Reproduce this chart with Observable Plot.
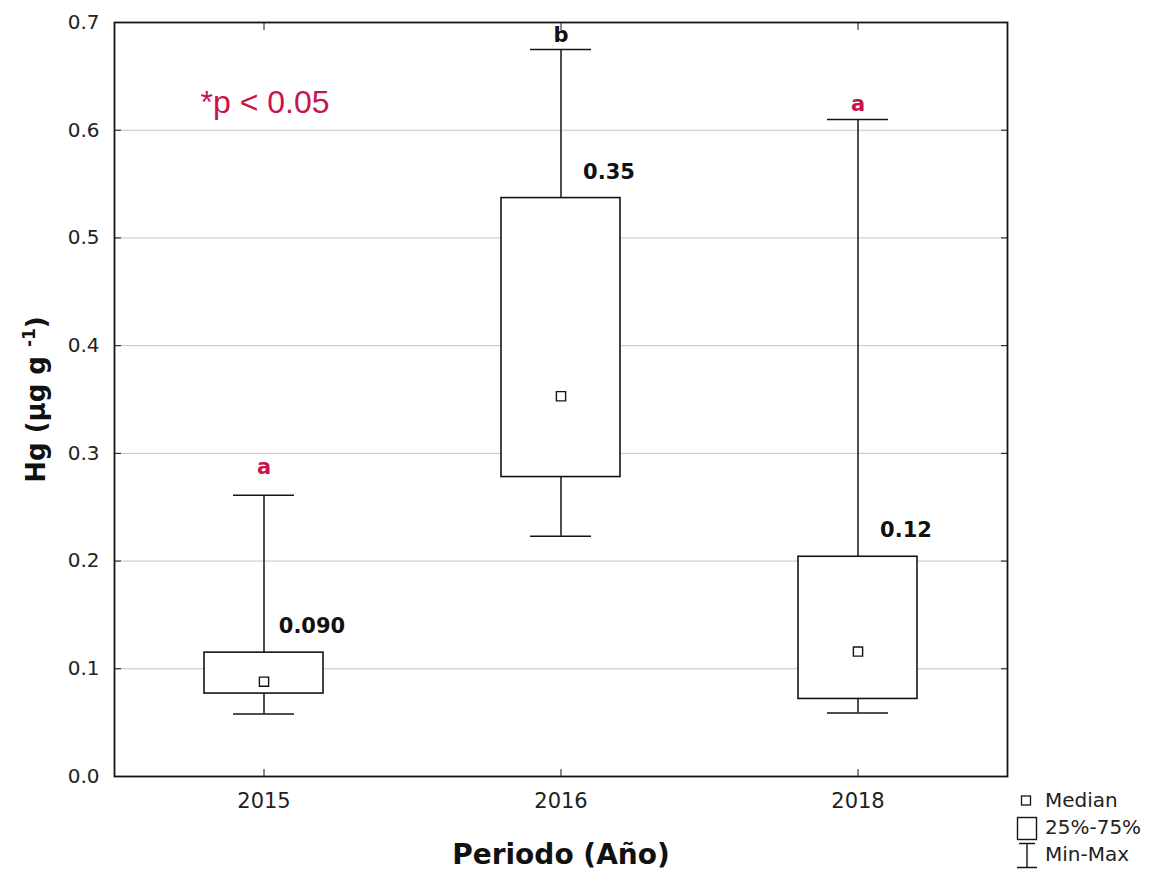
<!DOCTYPE html>
<html><head><meta charset="utf-8">
<script src="https://cdn.jsdelivr.net/npm/d3@7"></script>
<script src="https://cdn.jsdelivr.net/npm/@observablehq/plot@0.6"></script>
<style>
body{margin:0;background:#fff;}
#wrap{position:relative;width:1158px;height:876px;overflow:hidden;}
#legend{position:absolute;left:1000px;top:780px;}
</style></head><body><div id="wrap"></div>
<script>
// ---- data ----
const years = ["2015", "2016", "2018"];
const minVals = [0.058, 0.223, 0.059];
const q1Vals = [0.077, 0.278, 0.072];
const medianVals = [0.088, 0.353, 0.116];
const q3Vals = [0.115, 0.537, 0.204];
const maxVals = [0.261, 0.675, 0.610];
const medianLabels = ["0.090", "0.35", "0.12"];
const groupLetters = ["a", "b", "a"];
const letterY = [0.287, 0.688, 0.624];
const letterColors = ["#c8144b", "#111111", "#c8144b"];
const yTicks = [0, 0.1, 0.2, 0.3, 0.4, 0.5, 0.6, 0.7];
const pText = "*p < 0.05";
const xTitle = "Periodo (Año)";
const yTitle = "Hg (µg g -1)";
const legendItems = ["Median", "25%-75%", "Min-Max"];

const rows = years.map((year, i) => ({
  year, min: minVals[i], q1: q1Vals[i], median: medianVals[i], q3: q3Vals[i], max: maxVals[i],
  label: medianLabels[i], letter: groupLetters[i], letterY: letterY[i], letterColor: letterColors[i]
}));

const ink = "#141414";
const chart = Plot.plot({
  width: 1158, height: 876,
  marginLeft: 114, marginRight: 151, marginTop: 22, marginBottom: 100,
  x: {domain: years, padding: 0, label: null},
  y: {domain: [0, 0.7], label: null},
  color: {type: "identity"},
  style: {fontFamily: "DejaVu Sans, sans-serif", background: "#fff", color: "#222"},
  marks: [
    Plot.gridY(yTicks, {stroke: "#c4c4c4", strokeOpacity: 1, strokeWidth: 1}),
    Plot.axisY(yTicks, {anchor: "left", tickSize: -7, tickPadding: 22, tickFormat: d => d.toFixed(1), fontSize: 20, label: null, stroke: ink}),
    Plot.axisY(yTicks, {anchor: "right", tickSize: -7, tickFormat: () => "", label: null, stroke: ink}),
    Plot.axisX({anchor: "bottom", tickSize: -7, tickPadding: 24, fontSize: 21, label: null, stroke: ink}),
    Plot.axisX({anchor: "top", tickSize: -7, tickFormat: () => "", label: null, stroke: ink}),
    Plot.ruleX(rows, {x: "year", y1: "min", y2: "max", stroke: ink, strokeWidth: 1.5}),
    Plot.barY(rows, {x: "year", y1: "q1", y2: "q3", fill: "white", stroke: ink, strokeWidth: 1.6, insetLeft: 89, insetRight: 89}),
    Plot.tickY(rows, {x: "year", y: "max", stroke: ink, strokeWidth: 1.5, insetLeft: 118, insetRight: 118}),
    Plot.tickY(rows, {x: "year", y: "min", stroke: ink, strokeWidth: 1.5, insetLeft: 118, insetRight: 118}),
    Plot.dot(rows, {x: "year", y: "median", symbol: "square", r: 5.2, fill: "white", stroke: ink, strokeWidth: 1.4}),
    Plot.text(rows, {x: "year", y: "q3", text: "label", dx: 48, dy: -26, fontSize: 21, fontWeight: "bold", fill: "#111"}),
    Plot.text(rows, {x: "year", y: "letterY", text: "letter", fill: "letterColor", fontSize: 21, fontWeight: "bold"}),
    Plot.text([pText], {text: d => d, frameAnchor: "top-left", textAnchor: "start", lineAnchor: "middle", dx: 86, dy: 80, fontSize: 32, fill: "#c8144b", fontFamily: "Liberation Sans, Arial, sans-serif"}),
    Plot.text([xTitle], {text: d => d, frameAnchor: "bottom", textAnchor: "middle", lineAnchor: "middle", dy: 79, fontSize: 28, fontWeight: "bold", fill: "#111"}),
    Plot.text([yTitle], {text: d => d, frameAnchor: "left", textAnchor: "middle", lineAnchor: "middle", dx: -78, rotate: -90, fontSize: 26, fontWeight: "bold", fill: "#111"}),
    Plot.frame({stroke: ink, strokeWidth: 1.8})
  ]
});

// superscript for the unit exponent
chart.querySelectorAll("text").forEach(t => {
  if (t.textContent === yTitle) {
    t.textContent = "";
    const ns = "http://www.w3.org/2000/svg";
    const a = document.createElementNS(ns, "tspan"); a.textContent = "Hg (µg g ";
    const b = document.createElementNS(ns, "tspan"); b.textContent = "-1"; b.setAttribute("dy", "-10"); b.setAttribute("font-size", "17");
    const c = document.createElementNS(ns, "tspan"); c.textContent = ")"; c.setAttribute("dy", "10");
    t.append(a, b, c);
  }
});

const wrap = document.getElementById("wrap");
wrap.appendChild(chart);

// legend (bottom right)
const lg = d3.select(wrap).append("svg").attr("id", "legend").attr("width", 158).attr("height", 96)
  .style("font-family", "DejaVu Sans, sans-serif").style("font-size", "20px");
lg.append("rect").attr("x", 21.5).attr("y", 16).attr("width", 9).attr("height", 9).attr("fill", "white").attr("stroke", ink).attr("stroke-width", 1.3);
lg.append("rect").attr("x", 17.5).attr("y", 37.5).attr("width", 19).attr("height", 22).attr("fill", "white").attr("stroke", ink).attr("stroke-width", 1.4);
lg.append("path").attr("d", "M19,63.5H35M27,63.5V87.5M17,87.5H37").attr("stroke", ink).attr("stroke-width", 1.4).attr("fill", "none");
legendItems.forEach((s, i) => {
  lg.append("text").attr("x", 45).attr("y", 27 + i * 27).attr("fill", "#222").text(s);
});
</script></body></html>
